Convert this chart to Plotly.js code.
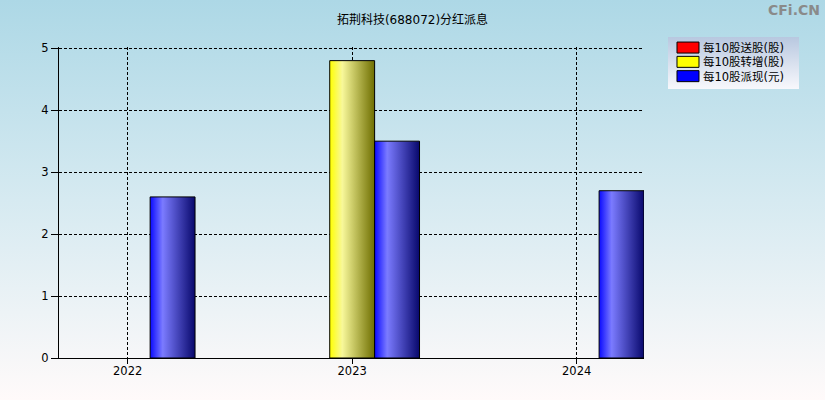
<!DOCTYPE html>
<html><head><meta charset="utf-8">
<script src="https://cdn.plot.ly/plotly-3.0.1.min.js"></script>
<style>
html,body{margin:0;padding:0;}
body{width:825px;height:400px;overflow:hidden;background:linear-gradient(to bottom,#add8e6 0%,#d6eaf1 50%,#fffafa 100%);}
#chart{width:825px;height:400px;}
</style>
</head><body><div id="chart"></div>
<script>
const categories = ['2022', '2023', '2024'];
const seriesNames = ['每10股送股(股)', '每10股转增(股)', '每10股派现(元)'];
const songGu = [null, null, null];
const zhuanZeng = [null, 4.8, null];
const paiXian = [2.6, 3.5, 2.7];
const yTicks = [0, 1, 2, 3, 4, 5];
const titleText = '拓荆科技(688072)分红派息';

const FONT = 'DejaVu Sans, Noto Sans CJK SC, sans-serif';
const mk = (c) => ({color: c, line: {color: '#000', width: 1}});
const traces = [
  {type: 'bar', name: seriesNames[0], x: categories, y: songGu, marker: mk('#ff0000')},
  {type: 'bar', name: seriesNames[1], x: categories, y: zhuanZeng, marker: mk('#ffff00')},
  {type: 'bar', name: seriesNames[2], x: categories, y: paiXian, marker: mk('#0000ff')}
];
const layout = {
  width: 825, height: 400,
  margin: {l: 59, r: 181, t: 47, b: 42, pad: 0},
  paper_bgcolor: 'rgba(0,0,0,0)', plot_bgcolor: 'rgba(0,0,0,0)',
  font: {family: FONT, size: 12, color: '#000'},
  title: {text: titleText, x: 0.5, xanchor: 'center', y: 0.951, yanchor: 'middle', yref: 'container',
          font: {family: FONT, size: 12, color: '#000'}},
  barmode: 'group', bargap: 0.4, bargroupgap: 0,
  showlegend: true,
  legend: {x: 1.041, y: 1.032, xanchor: 'left', yanchor: 'top', bgcolor: '#dfe7f2',
           borderwidth: 0, font: {family: FONT, size: 11.5, color: '#000'}, traceorder: 'normal',
           itemwidth: 30},
  xaxis: {type: 'category', range: [-0.306, 2.3], showline: true, linecolor: '#000', linewidth: 1,
          ticks: 'outside', ticklen: 5, tickcolor: '#000', showgrid: true, gridcolor: '#000',
          griddash: '3px,2px', gridwidth: 1, tickfont: {family: FONT, size: 11.5},
          ticklabelstandoff: -3, fixedrange: true},
  yaxis: {range: [0, 5.02], tickvals: yTicks, showline: true, linecolor: '#000', linewidth: 1,
          ticks: 'outside', ticklen: 7, tickcolor: '#000', showgrid: true, gridcolor: '#000',
          griddash: '3px,2px', gridwidth: 1, zeroline: false, tickfont: {family: FONT, size: 11.5},
          fixedrange: true},
  annotations: [{text: '<b>CFi.CN</b>', xref: 'paper', yref: 'paper', x: 1.305, y: 1.12,
                 xanchor: 'right', yanchor: 'middle', showarrow: false,
                 font: {family: 'DejaVu Sans, sans-serif', size: 14, color: '#8a8a8a'}}]
};
Plotly.newPlot('chart', traces, layout, {staticPlot: true}).then(function (gd) {
  const svg = gd.querySelector('svg.main-svg');
  const ns = 'http://www.w3.org/2000/svg';
  let defs = svg.querySelector('defs');
  if (!defs) { defs = document.createElementNS(ns, 'defs'); svg.insertBefore(defs, svg.firstChild); }
  function grad(id, stops, vertical) {
    const g = document.createElementNS(ns, 'linearGradient');
    g.setAttribute('id', id);
    g.setAttribute('x1', '0'); g.setAttribute('y1', '0');
    g.setAttribute('x2', vertical ? '0' : '1'); g.setAttribute('y2', vertical ? '1' : '0');
    stops.forEach(function (s) {
      const st = document.createElementNS(ns, 'stop');
      st.setAttribute('offset', s[0]); st.setAttribute('stop-color', s[1]);
      g.appendChild(st);
    });
    defs.appendChild(g);
  }
  grad('gRed', [['0', '#ff0000'], ['0.3', '#ff8080'], ['1', '#700000']]);
  grad('gYel', [['0', '#ffff00'], ['0.28', '#f8f89a'], ['1', '#6e6e00']]);
  grad('gBlu', [['0', '#0a0aff'], ['0.28', '#7b7bff'], ['1', '#08086c']]);
  grad('gLeg', [['0', '#b8c8e0'], ['1', '#f8f8fc']], true);
  const ids = ['gRed', 'gYel', 'gBlu'];
  gd.querySelectorAll('.barlayer .trace').forEach(function (t, i) {
    t.querySelectorAll('path').forEach(function (p) { p.style.fill = 'url(#' + ids[i] + ')'; });
  });
  const bg = gd.querySelector('.legend rect.bg');
  if (bg) { bg.style.fill = 'url(#gLeg)'; bg.setAttribute('width', 131); bg.setAttribute('height', 52); }
  gd.querySelectorAll('.legend .legendpoints path').forEach(function (p) {
    p.setAttribute('d', 'M-11,5.5H11V-5.5H-11Z');
  });
  gd.querySelectorAll('.legend .traces').forEach(function (g, i) {
    g.setAttribute('transform', 'translate(0,' + (10.5 + i * 14.3) + ')');
    const tx = g.querySelector('text.legendtext');
    if (tx) {
      const x = parseFloat(tx.getAttribute('x')) || 40;
      tx.setAttribute('x', x - 5);
      tx.querySelectorAll('tspan').forEach(function (s) {
        if (s.hasAttribute('x')) s.setAttribute('x', parseFloat(s.getAttribute('x')) - 5);
      });
    }
  });
});
</script>
</body></html>
